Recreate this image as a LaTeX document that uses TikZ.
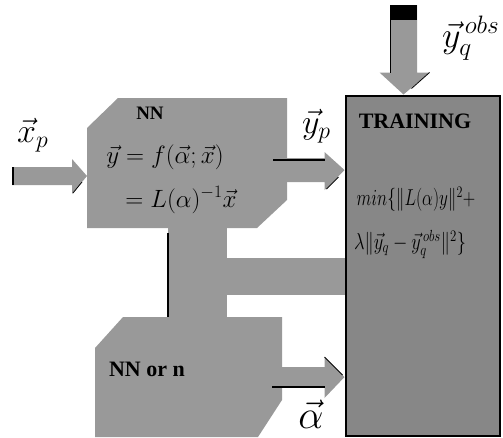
\RequirePackage{fix-cm}
\documentclass[tikz,border=0pt]{standalone}
\usepackage{amsmath}
\usepackage{graphicx}
\usepackage{fontspec}
\newfontfamily\boxfont{Liberation Serif}
\usetikzlibrary{calc}
\definecolor{ht}{gray}{0.60}
\definecolor{htd}{gray}{0.53}
\begin{document}
\begin{tikzpicture}[x=1pt,y=-1pt,
  shade/.style={fill=ht, draw=none},
  edgeline/.style={line width=1.3pt, black},
  trainbox/.style={draw=black, line width=2pt, fill=htd, minimum width=154pt, minimum height=340pt, inner sep=0pt},
  lbl/.style={inner sep=0pt, font=\fontsize{34}{38}\selectfont},
  boxtxt/.style={inner sep=0pt, font=\boxfont\bfseries\fontsize{19}{21}\selectfont},
  mtxt/.style={inner sep=0pt, font=\fontsize{25}{28}\selectfont},
  ttxt/.style={inner sep=0pt, font=\fontsize{23}{25}\selectfont}]
\useasboundingbox (0,0) rectangle (503,437);

% TRAINING box
\node[trainbox] (train) at (422.5,265.5) {};

% NN box
\fill[shade] (87,128)--(118,98)--(287,98)--(287,200)--(257,228)--(87,228)--cycle;
\coordinate (nnE) at (287,170);
\coordinate (nnW) at (87,176);
% NN or n box
\fill[shade] (95,348)--(123,317)--(282,317)--(282,400)--(258,437)--(95,437)--cycle;
\coordinate (orE) at (282,377);

% band connecting the two NN boxes and TRAINING
\coordinate (bandTL) at (168,228);
\coordinate (bandBR) at (227,317);
\fill[shade] (bandTL) rectangle (bandBR);
\coordinate (hbTL) at (227,258);
\fill[shade] (hbTL) rectangle (train.west |- 0,295);
\draw[edgeline] (168,233) -- (168,317);

% x_p arrow
\coordinate (xpS) at (12,176);
\fill[shade] ($(xpS)+(0,-9)$) -- ($(nnW)+(-15,-9)$) -- ($(nnW)+(-15,-17)$) -- (nnW)
   -- ($(nnW)+(-15,18)$) -- ($(nnW)+(-15,9)$) -- ($(xpS)+(0,9)$) -- cycle;
\draw[line width=2pt] ($(xpS)+(1,-9)$) -- ($(xpS)+(1,9)$);
\draw[line width=0.8pt] ($(nnW)+(-5,6)$) -- ($(nnW)+(-14,17)$);

% y_p arrow
\coordinate (yptip) at (train.west |- nnE);
\fill[shade] ($(nnE)+(0,-12)$) -- ($(yptip)+(-20,-12)$) -- ($(yptip)+(-20,-18)$) -- (yptip)
   -- ($(yptip)+(-20,20)$) -- ($(yptip)+(-20,12)$) -- ($(nnE)+(0,12)$) -- cycle;
\draw[edgeline] ($(nnE)+(-14,-10)$) -- ($(yptip)+(-20,-10)$);
\draw[line width=0.8pt] ($(yptip)+(-6,7)$) -- ($(yptip)+(-18,19)$);

% alpha arrow
\coordinate (atip) at (train.west |- orE);
\fill[shade] ($(orE)+(0,-10)$) -- ($(atip)+(-20,-10)$) -- ($(atip)+(-20,-20)$) -- (atip)
   -- ($(atip)+(-20,21)$) -- ($(atip)+(-20,10)$) -- ($(orE)+(0,10)$) -- cycle;
\draw[edgeline] ($(orE)+(-10,10)$) -- ($(atip)+(-20,10)$);
\draw[line width=0.8pt] ($(atip)+(-20,-20)$) -- ($(atip)+(-2,-2)$);

% y_q^obs arrow
\coordinate (yqS) at (403.5,5);
\coordinate (yqtip) at (train.north -| yqS);
\fill[shade] ($(yqS)+(-13.5,0)$) -- ($(yqtip)+(-13.5,-22)$) -- ($(yqtip)+(-24,-22)$) -- (yqtip)
   -- ($(yqtip)+(26,-22)$) -- ($(yqtip)+(13.5,-22)$) -- ($(yqS)+(13.5,0)$) -- cycle;
\fill[black] ($(yqS)+(-13.5,0)$) rectangle ($(yqS)+(13.5,15)$);
\draw[edgeline] ($(yqS)+(-13,0)$) -- ($(yqtip)+(-13,-22)$);
\draw[line width=0.8pt] ($(yqtip)+(26,-22)$) -- ($(yqtip)+(8,-6)$);

% texts
\node[boxtxt] (nnlab) at (150,113) {NN};
\node[mtxt] (eq1) at (165,157) {$\vec y = f(\vec\alpha;\vec x)$};
\node[mtxt] (eq2) at (181,200) {$= L(\alpha)^{-1}\vec x$};
\node[boxtxt, font=\boxfont\bfseries\fontsize{22}{24}\selectfont] (trlab) at (415,121) {TRAINING};
\node[ttxt] (tr1) at (416,199) {\scalebox{0.75}[1]{$min\{\|L(\alpha)y\|^2 +$}};
\node[ttxt] (tr2) at (410,244) {\scalebox{0.80}[1]{$\lambda\|\vec y_q - \vec y_q^{\,obs}\|^2\}$}};
\node[boxtxt, font=\boxfont\bfseries\fontsize{22}{24}\selectfont] (ornlab) at (147,369) {NN or n};

\node[lbl, anchor=base west] (xplab) at (17,142) {$\vec x_p$};
\node[lbl, anchor=base west] (yplab) at (302,133) {$\vec y_p$};
\node[lbl, anchor=base west, font=\fontsize{36}{40}\selectfont] (yqlab) at (442,47) {$\vec y_q^{\,obs}$};
\node[lbl, anchor=base, font=\fontsize{40}{44}\selectfont] (alab) at (311,428) {$\vec\alpha$};
\end{tikzpicture}
\end{document}
